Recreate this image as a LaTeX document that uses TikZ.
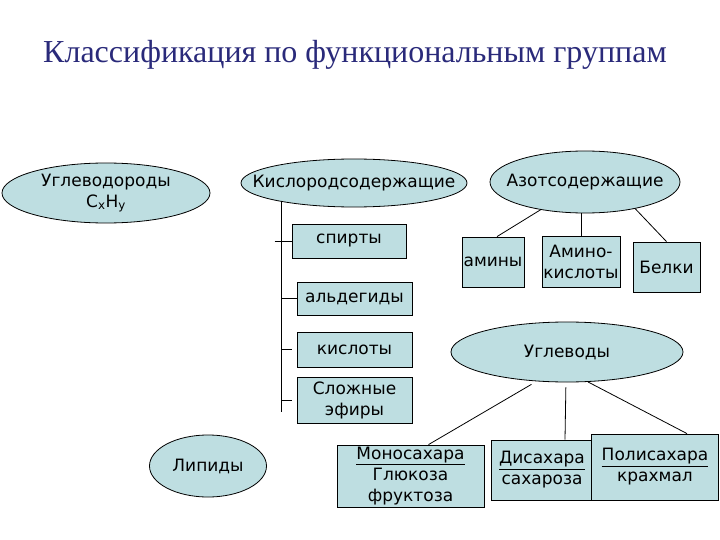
\documentclass[tikz,border=0pt]{standalone}
\usepackage{fontspec}
\setmainfont{DejaVu Sans}
\newfontfamily\titlefont{Liberation Serif}
\usetikzlibrary{shapes.geometric}
\definecolor{cellfill}{RGB}{190,222,225}
\definecolor{titleblue}{RGB}{42,42,122}

\begin{document}
\begin{tikzpicture}[x=1pt, y=-1pt, font=\fontsize{17}{21}\selectfont,
    oval/.style={ellipse, draw=black, fill=cellfill, inner sep=0pt, line width=0.8pt},
    cell/.style={rectangle, draw=black, fill=cellfill, inner sep=0pt, align=center, line width=0.8pt},
    link/.style={draw=black, line width=0.8pt}]
  \useasboundingbox (0,0) rectangle (720,540);
  \node[font=\titlefont\fontsize{32}{36}\selectfont, text=titleblue] (title) at (355,55) {Классификация по функциональным группам};

  % ellipses
  \node[oval, minimum width=208, minimum height=60,
    label={[align=center]center:Углеводороды\\C\textsubscript{x}H\textsubscript{y}}] (uglevodor) at (106,193) {};
  \node[oval, minimum width=226, minimum height=48, label=center:Кислородсодержащие] (kislorod) at (354,183) {};
  \node[oval, minimum width=190, minimum height=62, label=center:Азотсодержащие] (azot) at (585,182) {};
  \node[oval, minimum width=232, minimum height=60, label=center:Углеводы] (uglevody) at (567,352) {};
  \node[oval, minimum width=117, minimum height=62, label=center:Липиды] (lipidy) at (208,466) {};

  % oxygen branch
  \node[cell, minimum width=114, minimum height=34] (spirty) at (349,241) {спирты};
  \node[cell, minimum width=115, minimum height=33] (aldeg) at (354.5,298.5) {альдегиды};
  \node[cell, minimum width=115, minimum height=35] (kisloty) at (354.5,349.5) {кислоты};
  \node[cell, minimum width=115, minimum height=46] (efiry) at (354.5,400) {Сложные\\эфиры};
  \coordinate (spineTop) at (281,201);
  \coordinate (spineEnd) at (281,412);
  \draw[link] (spineTop) -- (spineEnd);
  \draw[link] ([xshift=-17]spirty.west) -- (spirty.west);
  \draw[link] (aldeg.west -| spineTop) -- (aldeg.west);
  \draw[link] (kisloty.west -| spineTop) -- ([xshift=-5]kisloty.west);
  \draw[link] (efiry.west -| spineTop) -- ([xshift=-5]efiry.west);

  % nitrogen branch
  \node[cell, minimum width=62, minimum height=50] (aminy) at (493,262) {амины};
  \node[cell, minimum width=78, minimum height=51] (aminokisl) at (581,261.5) {Амино-\\кислоты};
  \node[cell, minimum width=67, minimum height=50] (belki) at (666.5,267) {Белки};
  \draw[link] (azot.212) -- ([xshift=4]aminy.north);
  \draw[link] (azot.263) -- (azot.263 |- aminokisl.north);
  \draw[link] (azot.332) -- (belki.north);

  % carbohydrates
  \node[cell, minimum width=147, minimum height=62] (mono) at (410.5,476) {\underline{Моносахара}\\Глюкоза\\фруктоза};
  \node[cell, minimum width=102, minimum height=60] (disah) at (542,470) {\underline{Дисахара}\\сахароза};
  \node[cell, minimum width=127, minimum height=66] (polisah) at (655,467) {\underline{Полисахара}\\крахмал};
  \draw[link, shorten <=6pt] (uglevody.224) -- ([xshift=18]mono.north);
  \draw[link, shorten <=5pt] (uglevody.268) -- ([xshift=23]disah.north);
  \draw[link] (uglevody.305) -- ([xshift=32]polisah.north);
\end{tikzpicture}
\end{document}
